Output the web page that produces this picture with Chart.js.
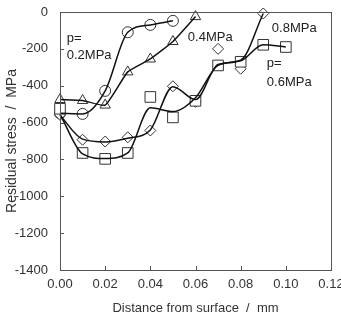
<!DOCTYPE html>
<html>
<head>
<meta charset="utf-8">
<script src="https://cdn.jsdelivr.net/npm/chart.js@4/dist/chart.umd.min.js"></script>
<style>
  html, body { margin: 0; padding: 0; background: #fff; }
  #wrap { width: 341px; height: 320px; }
</style>
</head>
<body>
<div id="wrap"><canvas id="chart" width="341" height="320"></canvas></div>
<script>
// measured depths (mm)
const depths = [0, 0.01, 0.02, 0.03, 0.04, 0.05, 0.06, 0.07, 0.08, 0.09, 0.10];

// marker values, residual stress (MPa)
const p02 = [-550, -553, -428, -110, -70, -48];
const p04 = [-475, -480, -505, -325, -255, -160, -25];
const p06 = [-525, -765, -797, -765, -461, -572, -482, -290, -270, -178, -190];
const p08 = [-558, -693, -703, -680, -643, -403, -488, -200, -308, -8];

// fitted curves drawn through the 0.6 / 0.8 MPa points
const fit06 = [-555, -770, -795, -765, -520, -540, -465, -290, -265, -178, -190];
const fit08 = [-560, -690, -705, -685, -640, -405, -475, -285, -262, -8];

// in-plot labels
const noteText = ['p=', '0.2MPa', '0.4MPa', '0.8MPa', 'p=', '0.6MPa'];
const noteX = [0.003, 0.003, 0.0566, 0.0938, 0.0916, 0.0916];
const noteY = [-141, -233, -136, -87, -277, -380];

const xTicks = [0, 0.02, 0.04, 0.06, 0.08, 0.10, 0.12];
const yTicks = [0, -200, -400, -600, -800, -1000, -1200, -1400];

const pts = (ys) => ys.map((y, i) => ({ x: depths[i], y }));
const FONT = '"Liberation Sans", Arial, sans-serif';

const frame = {
  id: 'frame',
  afterDraw(chart) {
    const { ctx, chartArea: a, scales } = chart;
    ctx.save();
    ctx.strokeStyle = '#555';
    ctx.lineWidth = 1;
    ctx.strokeRect(a.left + 0.5, a.top + 0.5, a.right - a.left, a.bottom - a.top);
    ctx.beginPath();
    xTicks.forEach(v => {
      const px = Math.round(scales.x.getPixelForValue(v)) + 0.5;
      ctx.moveTo(px, a.bottom); ctx.lineTo(px, a.bottom - 4);
    });
    yTicks.forEach(v => {
      const py = Math.round(scales.y.getPixelForValue(v)) + 0.5;
      ctx.moveTo(a.left, py); ctx.lineTo(a.left + 4, py);
    });
    ctx.stroke();
    ctx.fillStyle = '#222';
    ctx.font = '13px ' + FONT;
    ctx.textBaseline = 'middle';
    ctx.textAlign = 'left';
    noteText.forEach((t, i) => {
      ctx.fillText(t, scales.x.getPixelForValue(noteX[i]), scales.y.getPixelForValue(noteY[i]));
    });
    ctx.restore();
  }
};

const lineStyle = { borderColor: '#111', borderWidth: 1.5, pointRadius: 0, fill: false, clip: false };
const markStyle = { showLine: false, borderColor: '#333', borderWidth: 1, backgroundColor: '#fff', clip: false };

new Chart(document.getElementById('chart'), {
  type: 'scatter',
  data: {
    datasets: [
      { ...lineStyle, data: pts(fit06), showLine: true, cubicInterpolationMode: 'monotone' },
      { ...lineStyle, data: pts(fit08), showLine: true, cubicInterpolationMode: 'monotone' },
      { ...lineStyle, data: pts(p02), showLine: true, cubicInterpolationMode: 'monotone' },
      { ...lineStyle, data: pts(p04), showLine: true, tension: 0.15 },
      { ...markStyle, data: pts(p06), pointStyle: 'rect', pointRadius: 7.5 },
      { ...markStyle, data: pts(p08), pointStyle: 'rectRot', pointRadius: 5.5 },
      { ...markStyle, data: pts(p04), pointStyle: 'triangle', pointRadius: 6 },
      { ...markStyle, data: pts(p02), pointStyle: 'circle', pointRadius: 5.5 }
    ]
  },
  options: {
    responsive: false,
    animation: false,
    events: [],
    layout: { padding: { top: 12, right: 0, left: 0, bottom: 0 } },
    plugins: { legend: { display: false }, tooltip: { enabled: false } },
    scales: {
      x: {
        type: 'linear', min: 0, max: 0.12,
        afterFit: s => { s.height = 50; s.paddingRight = 10; s.paddingLeft = 0; },
        afterBuildTicks: s => { s.ticks = xTicks.map(v => ({ value: v })); },
        grid: { display: false },
        border: { display: false },
        ticks: { color: '#333', font: { family: FONT, size: 13 }, padding: -1, maxRotation: 0,
                 callback: v => v.toFixed(2) },
        title: { display: true, text: 'Distance from surface  /  mm', color: '#333',
                 font: { family: FONT, size: 13 }, padding: { top: 4 } }
      },
      y: {
        type: 'linear', min: -1400, max: 0,
        afterFit: s => { s.width = 60; },
        afterBuildTicks: s => { s.ticks = yTicks.map(v => ({ value: v })); },
        grid: { display: false },
        border: { display: false },
        ticks: { color: '#333', font: { family: FONT, size: 13 }, padding: 4,
                 callback: v => String(v) },
        title: { display: true, text: 'Residual stress  /  MPa', color: '#333',
                 font: { family: FONT, size: 14 }, padding: { bottom: 0 } }
      }
    }
  },
  plugins: [frame]
});
</script>
</body>
</html>
